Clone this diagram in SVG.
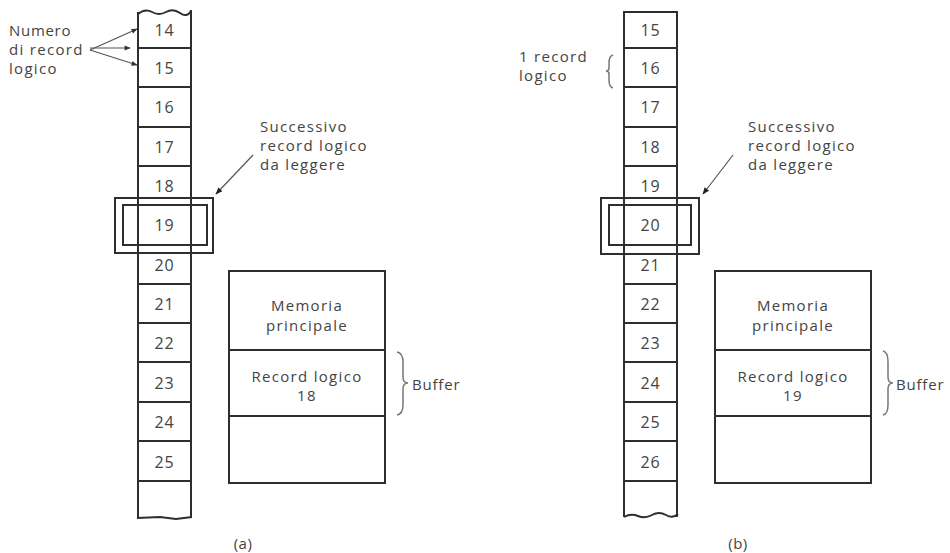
<svg xmlns="http://www.w3.org/2000/svg" width="950" height="553" viewBox="0 0 950 553">
<defs>
<marker id="ah" viewBox="0 0 10 10" refX="9" refY="5" markerWidth="7" markerHeight="6" orient="auto" markerUnits="userSpaceOnUse">
<path d="M0,1 L10,5 L0,9 Z" fill="#333"/>
</marker>
<marker id="ah2" viewBox="0 0 10 10" refX="9" refY="5" markerWidth="10" markerHeight="7" orient="auto" markerUnits="userSpaceOnUse">
<path d="M0,1 L10,5 L0,9 Z" fill="#222"/>
</marker>
</defs>
<style>
.t{font-family:"Open Sans","Liberation Sans",sans-serif;fill:#444;font-size:15px;letter-spacing:1.3px}
.n{font-family:"Open Sans","Liberation Sans",sans-serif;fill:#444;font-size:16px;letter-spacing:0.8px;text-anchor:middle}
.c{text-anchor:middle}
.ln{stroke:#2e2e2e;stroke-width:2;fill:none}
.thin{stroke:#555;stroke-width:1.2;fill:none}
.br{stroke:#777;stroke-width:1.5;fill:none}
</style>
<rect width="950" height="553" fill="#fff"/>

<!-- Left tape (a) -->
<g id="tapeA">
<path class="ln" d="M138,14 Q145,8 152,12 T166,12 T180,13 T191,11"/>
<line class="ln" x1="138" y1="12" x2="138" y2="518"/>
<line class="ln" x1="191" y1="10" x2="191" y2="518"/>
<path class="ln" d="M137,518 L160,517 L176,519 L192,517"/>
<g class="ln">
<line x1="138" y1="48" x2="191" y2="48"/>
<line x1="138" y1="87" x2="191" y2="87"/>
<line x1="138" y1="127" x2="191" y2="127"/>
<line x1="138" y1="166" x2="191" y2="166"/>
<line x1="138" y1="284" x2="191" y2="284"/>
<line x1="138" y1="323" x2="191" y2="323"/>
<line x1="138" y1="362" x2="191" y2="362"/>
<line x1="138" y1="402" x2="191" y2="402"/>
<line x1="138" y1="441" x2="191" y2="441"/>
<line x1="138" y1="481" x2="191" y2="481"/>
</g>
<text class="n" x="164.5" y="36">14</text>
<text class="n" x="164.5" y="74">15</text>
<text class="n" x="164.5" y="113">16</text>
<text class="n" x="164.5" y="153">17</text>
<text class="n" x="164.5" y="192">18</text>
<text class="n" x="164.5" y="231">19</text>
<text class="n" x="164.5" y="271">20</text>
<text class="n" x="164.5" y="310">21</text>
<text class="n" x="164.5" y="349">22</text>
<text class="n" x="164.5" y="389">23</text>
<text class="n" x="164.5" y="428">24</text>
<text class="n" x="164.5" y="468">25</text>
</g>
<g id="highlightA">
<rect class="ln" x="115" y="198" width="98" height="55"/>
<rect class="ln" x="123" y="205" width="84" height="40"/>
</g>

<!-- Memory (a) -->
<g id="memA">
<rect class="ln" x="229" y="271" width="156" height="212"/>
<line class="ln" x1="229" y1="350" x2="385" y2="350"/>
<line class="ln" x1="229" y1="416" x2="385" y2="416"/>
<text class="t c" x="307" y="311">Memoria</text>
<text class="t c" x="307" y="331">principale</text>
<text class="t c" x="307" y="382">Record logico</text>
<text class="t c" x="307" y="401">18</text>
</g>
<g id="bufferA">
<path class="br" d="M397,352 Q403,353 403,362 L403,377 Q403,383 408,383 Q403,383 403,389 L403,405 Q403,414 397,415"/>
<text class="t" x="412" y="390" style="letter-spacing:0.8px">Buffer</text>
</g>

<g id="labelNumero">
<text class="t" x="9" y="36" style="letter-spacing:0.7px">Numero</text>
<text class="t" x="9" y="55">di record</text>
<text class="t" x="9" y="74">logico</text>
</g>
<g id="labelSuccA">
<text class="t" x="260" y="132">Successivo</text>
<text class="t" x="260" y="151">record logico</text>
<text class="t" x="260" y="170">da leggere</text>
</g>
<text class="t c" x="243" y="549" font-size="13" style="letter-spacing:0.5px">(a)</text>

<!-- Right tape (b) -->
<g id="tapeB">
<line class="ln" x1="624" y1="12" x2="677" y2="12"/>
<line class="ln" x1="624" y1="11" x2="624" y2="517"/>
<line class="ln" x1="677" y1="11" x2="677" y2="517"/>
<path class="ln" d="M624,517 Q631,513 638,516 T652,515 T666,515 T678,514"/>
<g class="ln">
<line x1="624" y1="48" x2="677" y2="48"/>
<line x1="624" y1="87" x2="677" y2="87"/>
<line x1="624" y1="127" x2="677" y2="127"/>
<line x1="624" y1="166" x2="677" y2="166"/>
<line x1="624" y1="284" x2="677" y2="284"/>
<line x1="624" y1="323" x2="677" y2="323"/>
<line x1="624" y1="362" x2="677" y2="362"/>
<line x1="624" y1="402" x2="677" y2="402"/>
<line x1="624" y1="441" x2="677" y2="441"/>
<line x1="624" y1="481" x2="677" y2="481"/>
</g>
<text class="n" x="650.5" y="36">15</text>
<text class="n" x="650.5" y="74">16</text>
<text class="n" x="650.5" y="113">17</text>
<text class="n" x="650.5" y="153">18</text>
<text class="n" x="650.5" y="192">19</text>
<text class="n" x="650.5" y="231">20</text>
<text class="n" x="650.5" y="271">21</text>
<text class="n" x="650.5" y="310">22</text>
<text class="n" x="650.5" y="349">23</text>
<text class="n" x="650.5" y="389">24</text>
<text class="n" x="650.5" y="428">25</text>
<text class="n" x="650.5" y="468">26</text>
</g>
<g id="highlightB">
<rect class="ln" x="601" y="198" width="98" height="56"/>
<rect class="ln" x="609" y="205" width="82" height="40"/>
</g>

<g id="memB">
<rect class="ln" x="715" y="271" width="156" height="212"/>
<line class="ln" x1="715" y1="350" x2="871" y2="350"/>
<line class="ln" x1="715" y1="416" x2="871" y2="416"/>
<text class="t c" x="793" y="311">Memoria</text>
<text class="t c" x="793" y="331">principale</text>
<text class="t c" x="793" y="382">Record logico</text>
<text class="t c" x="793" y="401">19</text>
</g>
<g id="bufferB">
<path class="br" d="M883,351 Q888,352 888,362 L888,377 Q888,383 893,383 Q888,383 888,389 L888,405 Q888,414 883,415"/>
<text class="t" x="896" y="390" style="letter-spacing:0.8px">Buffer</text>
</g>

<g id="labelRecordB">
<text class="t" x="519" y="62">1 record</text>
<text class="t" x="519" y="81">logico</text>
<path class="br" d="M613,55 Q609,56 609,63 L609,68 Q609,71 606,71 Q609,71 609,74 L609,80 Q609,87 613,88"/>
</g>
<g id="labelSuccB">
<text class="t" x="748" y="132">Successivo</text>
<text class="t" x="748" y="151">record logico</text>
<text class="t" x="748" y="170">da leggere</text>
</g>
<text class="t c" x="738" y="549" font-size="13" style="letter-spacing:0.5px">(b)</text>

<!-- Connectors -->
<g id="connectors">
<line class="thin" x1="90" y1="50" x2="137" y2="29" marker-end="url(#ah)"/>
<line class="thin" x1="90" y1="48" x2="130" y2="48" marker-end="url(#ah)"/>
<line class="thin" x1="90" y1="50" x2="137" y2="65" marker-end="url(#ah)"/>
<line class="thin" x1="253" y1="155" x2="216" y2="194" marker-end="url(#ah2)"/>
<line class="thin" x1="733" y1="155" x2="703" y2="194" marker-end="url(#ah2)"/>
</g>
</svg>
